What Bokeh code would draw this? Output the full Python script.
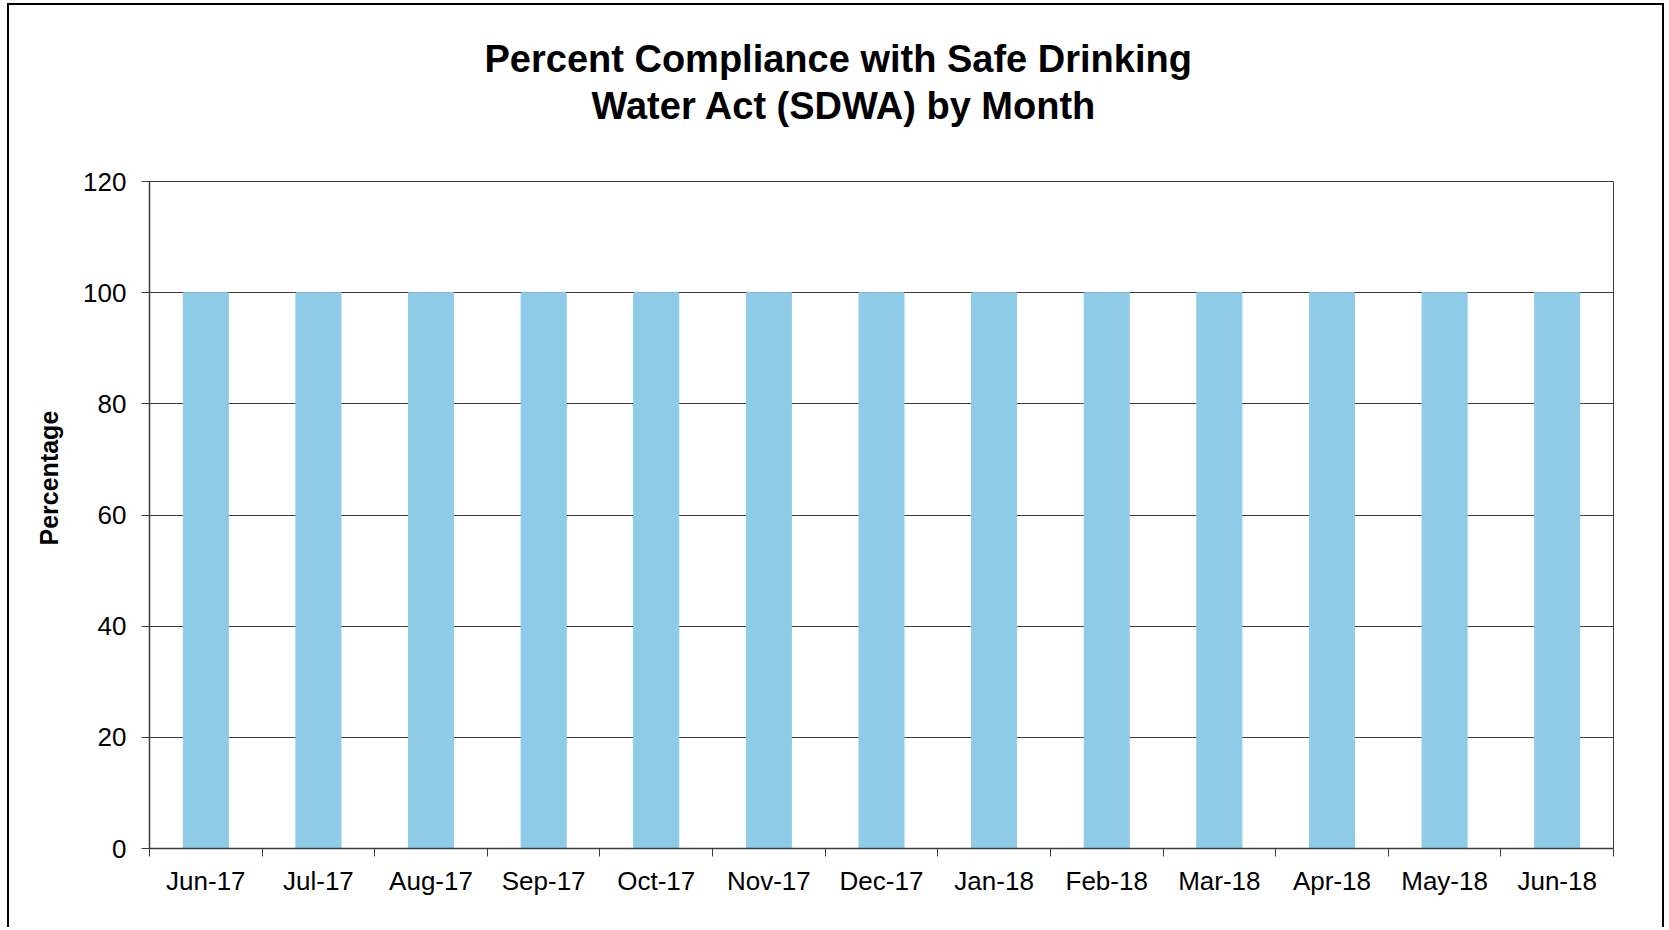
from bokeh.plotting import figure
from bokeh.models import Range1d, FixedTicker, Title
from bokeh.embed import file_html
from bokeh.resources import INLINE

# ---- data ----
months = ["Jun-17", "Jul-17", "Aug-17", "Sep-17", "Oct-17", "Nov-17", "Dec-17",
          "Jan-18", "Feb-18", "Mar-18", "Apr-18", "May-18", "Jun-18"]
compliance = [100, 100, 100, 100, 100, 100, 100, 100, 100, 100, 100, 100, 100]
y_ticks = [0, 20, 40, 60, 80, 100, 120]
title_line1 = "Percent Compliance with Safe Drinking"
title_line2 = "Water Act (SDWA) by Month"
y_label = "Percentage"

FONT = "Liberation Sans"
DARK = "#3c3c3c"

n = len(months)
centers = [i + 0.5 for i in range(n)]
bounds = list(range(n + 1))

p = figure(width=1657, height=924, output_backend="svg", toolbar_location=None,
           x_range=Range1d(0, n), y_range=Range1d(0, 120),
           min_border_left=140, min_border_right=53, min_border_top=176,
           min_border_bottom=81, background_fill_color="white",
           border_fill_color="white")
p.styles = {"border-left": "2px solid black", "border-top": "2px solid black",
            "border-right": "2px solid black", "margin-left": "7px",
            "margin-top": "3px"}

p.vbar(x=centers, top=compliance, width=0.4, fill_color="#8ECBE7",
       line_color="#8ECBE7", line_width=1)

p.outline_line_color = DARK
p.outline_line_width = 1

# y axis
p.yaxis.ticker = FixedTicker(ticks=y_ticks)
p.yaxis.major_tick_out = 8
p.yaxis.major_tick_in = 0
p.yaxis.minor_tick_line_color = None
p.yaxis.major_tick_line_color = DARK
p.yaxis.axis_line_color = DARK
p.yaxis.axis_line_width = 1.5
p.yaxis.major_label_text_font = FONT
p.yaxis.major_label_text_font_size = "26px"
p.yaxis.major_label_text_color = "black"
p.yaxis.major_label_standoff = 15

# x axis: labels at centres, tick marks at category boundaries
p.xaxis.ticker = FixedTicker(ticks=centers, minor_ticks=bounds)
p.xaxis.major_label_overrides = {c: m for c, m in zip(centers, months)}
p.xaxis.major_tick_line_color = None
p.xaxis.major_tick_out = 8
p.xaxis.minor_tick_line_color = DARK
p.xaxis.minor_tick_out = 8
p.xaxis.minor_tick_in = 0
p.xaxis.axis_line_color = DARK
p.xaxis.axis_line_width = 1.5
p.xaxis.major_label_text_font = FONT
p.xaxis.major_label_text_font_size = "26px"
p.xaxis.major_label_text_color = "black"
p.xaxis.major_label_standoff = 9

p.xgrid.grid_line_color = None
p.ygrid.grid_line_color = DARK
p.ygrid.grid_line_width = 1

# blank spacer row between the frame and the title lines
p.add_layout(Title(text=" ", text_font=FONT, text_font_size="20px",
                   standoff=31), "above")

# titles (line 2 first: later additions sit further out)
p.add_layout(Title(text=title_line2, text_font=FONT, text_font_style="bold",
                   text_font_size="38px", text_color="black", align="left",
                   offset=442, standoff=0), "above")
p.add_layout(Title(text=title_line1, text_font=FONT, text_font_style="bold",
                   text_font_size="38px", text_color="black", align="left",
                   offset=335, standoff=6), "above")

# y-axis label as a side title (sits off-centre like the original)
p.add_layout(Title(text=y_label, text_font=FONT, text_font_style="bold",
                   text_font_size="25px", text_color="black", align="left",
                   offset=303, standoff=36), "left")

open("out.html", "w").write(file_html(p, INLINE))
